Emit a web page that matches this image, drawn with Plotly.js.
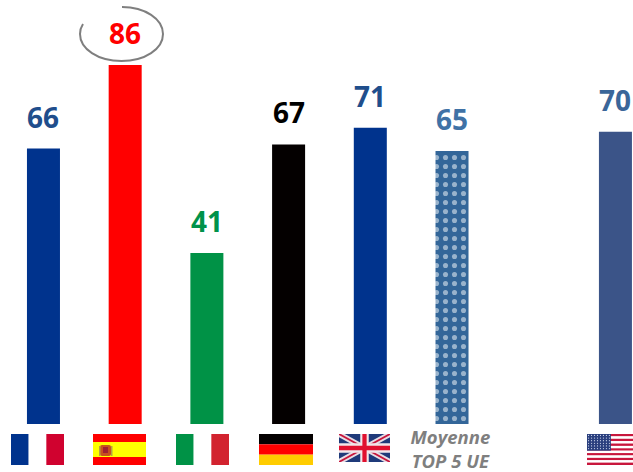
<!DOCTYPE html>
<html><head><meta charset="utf-8">
<script src="https://cdn.plot.ly/plotly-3.0.1.min.js"></script>
<style>html,body{margin:0;padding:0;background:#fff;overflow:hidden}#c{width:633px;height:472px}</style>
</head><body><div id="c"></div>
<script>
const categories=['France','Espagne','Italie','Allemagne','Royaume-Uni','Moyenne TOP 5 UE','','États-Unis'];
const positions=[0,1,2,3,4,5,7];
const values=[66,86,41,67,71,65.4,70];
const barColors=['#00338D','#FF0000','#009246','#040000','#00338D','#336699','#3B5488'];
const labelColors=['#1F4E8C','#FF0000','#00924A','#000000','#1F4E8C','#3F72A6','#3A6699'];
const W=633,H=472,BOTTOM=424;
const xMin=-0.532,xMax=7.215,yMax=101.6;
const px=v=>xMin+(xMax-xMin)*v/W;
const py=v=>yMax*(BOTTOM-v)/BOTTOM;
const P=(x,y)=>px(x)+','+py(y);

const uri=s=>'data:image/svg+xml;charset=utf-8,'+encodeURIComponent('<svg xmlns="http://www.w3.org/2000/svg" preserveAspectRatio="none" '+s+'</svg>');
let usStripes='';for(let i=0;i<13;i++)usStripes+=`<rect y="${i}" width="24" height="1" fill="${i%2?'#fff':'#C8163C'}"/>`;
let usStars='';for(let r=0;r<6;r++)for(let c=0;c<8;c++)usStars+=`<circle cx="${0.7+c*1.35}" cy="${0.6+r*1.1}" r="0.28" fill="#C9D2E8"/>`;
const flagSvgs=[
 uri('viewBox="0 0 3 2"><rect width="1" height="2" fill="#00338D"/><rect x="1" width="1" height="2" fill="#fff"/><rect x="2" width="1" height="2" fill="#D0022F"/>'),
 uri('viewBox="0 0 53 31"><rect width="53" height="31" fill="#FF0000"/><rect y="8" width="53" height="15" fill="#FFFF00"/><rect x="7" y="11" width="11" height="11" rx="2" fill="#C8501E"/><rect x="10" y="13" width="5" height="6" fill="#A02030"/><rect x="6" y="12" width="1.5" height="10" fill="#B8A040"/><rect x="18" y="12" width="1.5" height="10" fill="#B8A040"/>'),
 uri('viewBox="0 0 3 2"><rect width="1" height="2" fill="#009246"/><rect x="1" width="1" height="2" fill="#fff"/><rect x="2" width="1" height="2" fill="#D2232F"/>'),
 uri('viewBox="0 0 3 3"><rect width="3" height="1" fill="#040000"/><rect y="1" width="3" height="1" fill="#FF0000"/><rect y="2" width="3" height="1" fill="#FFCC00"/>'),
 uri('viewBox="0 0 60 30"><rect width="60" height="30" fill="#1F3A7A"/><path d="M0,0L60,30M60,0L0,30" stroke="#E8DDE4" stroke-width="6"/><path d="M0,0L60,30M60,0L0,30" stroke="#C8163C" stroke-width="2"/><path d="M30,0V30M0,15H60" stroke="#F2E6EA" stroke-width="10"/><path d="M30,0V30M0,15H60" stroke="#E0102F" stroke-width="5"/>'),
 uri('viewBox="0 0 24 13">'+usStripes+'<rect width="10.8" height="7" fill="#2A3F7E"/>'+usStars)
];
const flagBoxes=[[11,434,53,31],[93,434,53,31],[176,434,53,31],[259,434,54,31],[339,434,51,28],[587,434,53,31]];
const images=flagSvgs.map((source,i)=>{const b=flagBoxes[i];return{
 source,xref:'paper',yref:'paper',x:b[0]/W,y:(BOTTOM-b[1])/BOTTOM,sizex:b[2]/W,sizey:b[3]/BOTTOM,
 xanchor:'left',yanchor:'top',sizing:'stretch',layer:'above'};});

const annotations=values.map((v,i)=>({x:positions[i],y:v,xref:'x',yref:'y',text:'<b>'+Math.round(v)+'</b>',showarrow:false,
 yanchor:'bottom',xanchor:'center',yshift:11,font:{family:'Open Sans',size:28,color:labelColors[i]}}));

const arc='M'+P(122,7)+' C'+P(145,7)+' '+P(163,19)+' '+P(163,34)+' C'+P(163,49)+' '+P(145,61)+' '+P(121.5,61)+
 ' C'+P(98,61)+' '+P(80,49)+' '+P(80,34)+' C'+P(80,30)+' '+P(81,27)+' '+P(83,24);

Plotly.newPlot('c',[{type:'bar',x:positions,y:values,width:0.404,
 marker:{color:barColors,line:{width:0},
  pattern:{shape:['','','','','','.',''],fgcolor:'#FFFFFF',bgcolor:'#336699',size:9,solidity:0.25,fillmode:'overlay'}},
 hoverinfo:'skip',cliponaxis:false}],{
 width:W,height:H,margin:{l:0,r:0,t:0,b:H-BOTTOM,pad:0},paper_bgcolor:'#fff',plot_bgcolor:'#fff',showlegend:false,
 xaxis:{range:[xMin,xMax],showgrid:false,zeroline:false,showline:false,ticks:'',tickmode:'array',tickvals:[4.98],
  ticktext:['Moyenne<br>TOP 5 UE'],ticklabelstandoff:0,
  tickfont:{family:'Open Sans',size:18.5,color:'#7F7F7F',style:'italic',weight:'bold'}},
 yaxis:{range:[0,yMax],visible:false},
 annotations,images,
 shapes:[{type:'path',xref:'x',yref:'y',path:arc,line:{color:'#7F7F7F',width:2},fillcolor:'rgba(0,0,0,0)'}]
},{displayModeBar:false,staticPlot:true});
</script></body></html>
